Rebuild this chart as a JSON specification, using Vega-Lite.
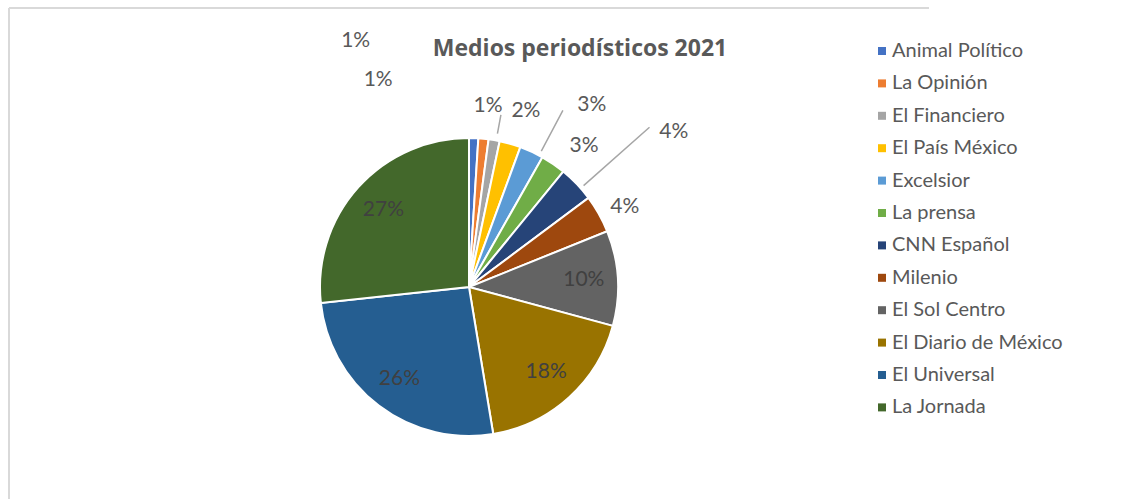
{
  "$schema": "https://vega.github.io/schema/vega-lite/v6.json",
  "width": 920,
  "height": 558,
  "autosize": {"type": "none"},
  "padding": {"left": 9, "top": 8, "right": 216, "bottom": 0},
  "background": "white",
  "view": {"stroke": "#d9d9d9", "strokeWidth": 2, "strokeDash": [920, 1478, 558, 0]},
  "title": {
    "text": "Medios periodísticos 2021",
    "font": "Open Sans",
    "fontSize": 23,
    "fontWeight": "bold",
    "color": "#595959",
    "anchor": "middle",
    "frame": "group",
    "offset": -53,
    "dx": 111
  },
  "data": {
    "values": [
      {"medio": "Animal Político", "porcentaje": 0.010},
      {"medio": "La Opinión", "porcentaje": 0.011},
      {"medio": "El Financiero", "porcentaje": 0.012},
      {"medio": "El País México", "porcentaje": 0.023},
      {"medio": "Excelsior", "porcentaje": 0.026},
      {"medio": "La prensa", "porcentaje": 0.027},
      {"medio": "CNN Español", "porcentaje": 0.039},
      {"medio": "Milenio", "porcentaje": 0.041},
      {"medio": "El Sol Centro", "porcentaje": 0.103},
      {"medio": "El Diario de México", "porcentaje": 0.182},
      {"medio": "El Universal", "porcentaje": 0.259},
      {"medio": "La Jornada", "porcentaje": 0.267}
    ]
  },
  "encoding": {
    "theta": {"field": "porcentaje", "type": "quantitative", "stack": true},
    "order": {"field": "porcentaje", "type": "quantitative", "sort": "ascending"},
    "detail": {"field": "medio", "type": "nominal"}
  },
  "layer": [
    {
      "mark": {"type": "arc", "radius": 149, "stroke": "white", "strokeWidth": 2},
      "encoding": {
        "color": {
          "field": "medio",
          "type": "nominal",
          "sort": null,
          "scale": {
            "domain": ["Animal Político", "La Opinión", "El Financiero", "El País México", "Excelsior", "La prensa", "CNN Español", "Milenio", "El Sol Centro", "El Diario de México", "El Universal", "La Jornada"],
            "range": ["#4472C4", "#ED7D31", "#A5A5A5", "#FFC000", "#5B9BD5", "#70AD47", "#264478", "#9E480E", "#636363", "#997300", "#255E91", "#43682B"]
          },
          "legend": {
            "title": null,
            "orient": "none",
            "legendX": 863,
            "legendY": 33,
            "padding": 0,
            "symbolType": "square",
            "symbolSize": 64,
            "symbolStrokeWidth": 0,
            "labelFont": "Lato",
            "labelFontSize": 20,
            "labelColor": "#595959",
            "labelOffset": 0,
            "rowPadding": 12.4,
            "labelLimit": 300
          }
        }
      }
    },
    {
      "mark": {
        "type": "arc",
        "filled": false,
        "strokeWidth": 1.5,
        "padAngle": 0.3,
        "radius": {"expr": "[175, 200, 241, 1][indexof(['El Financiero', 'Excelsior', 'CNN Español'], datum.medio) < 0 ? 3 : indexof(['El Financiero', 'Excelsior', 'CNN Español'], datum.medio)]"},
        "radius2": {"expr": "[156, 154, 153, 0][indexof(['El Financiero', 'Excelsior', 'CNN Español'], datum.medio) < 0 ? 3 : indexof(['El Financiero', 'Excelsior', 'CNN Español'], datum.medio)]"},
        "thetaOffset": {"expr": "[0.1833, 0.4887, 0.8465, 0][indexof(['El Financiero', 'Excelsior', 'CNN Español'], datum.medio) < 0 ? 3 : indexof(['El Financiero', 'Excelsior', 'CNN Español'], datum.medio)] - PI * (datum.porcentaje_start + datum.porcentaje_end)"}
      },
      "encoding": {
        "color": {"value": "#a6a6a6"},
        "opacity": {"condition": {"test": "indexof(['El Financiero', 'Excelsior', 'CNN Español'], datum.medio) >= 0", "value": 1}, "value": 0}
      }
    },
    {
      "mark": {"type": "text", "radius": 115, "font": "Lato", "fontSize": 21, "align": "center", "baseline": "middle"},
      "encoding": {
        "text": {"field": "porcentaje", "type": "quantitative", "format": ".0%"},
        "color": {"value": "#404040"},
        "opacity": {"condition": {"test": "datum.porcentaje >= 0.1", "value": 1}, "value": 0}
      }
    },
    {
      "mark": {
        "type": "text",
        "font": "Lato",
        "fontSize": 21,
        "align": "center",
        "baseline": "middle",
        "radius": {"expr": "[226, 271, 182, 185, 220, 182, 257, 175][indexof(['Animal Político', 'La Opinión', 'El Financiero', 'El País México', 'Excelsior', 'La prensa', 'CNN Español', 'Milenio'], datum.medio)]"},
        "thetaOffset": {"expr": "[-0.445, -0.529, -0.065, 0.033, 0.159, 0.084, 0.115, 0.038][indexof(['Animal Político', 'La Opinión', 'El Financiero', 'El País México', 'Excelsior', 'La prensa', 'CNN Español', 'Milenio'], datum.medio)]"}
      },
      "encoding": {
        "text": {"field": "porcentaje", "type": "quantitative", "format": ".0%"},
        "color": {"value": "#595959"},
        "opacity": {"condition": {"test": "datum.porcentaje < 0.1", "value": 1}, "value": 0}
      }
    }
  ]
}
